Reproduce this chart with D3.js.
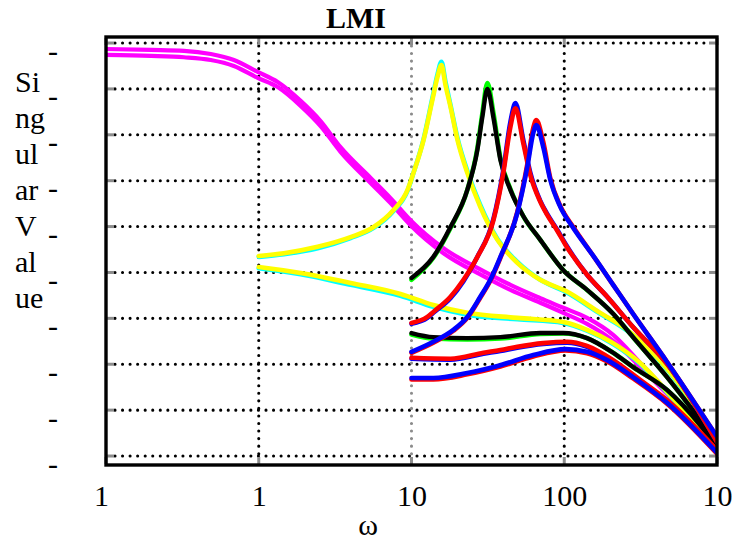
<!DOCTYPE html>
<html><head><meta charset="utf-8">
<script src="https://cdn.jsdelivr.net/npm/d3@7/dist/d3.min.js"></script>
<style>
body{margin:0;background:#fff;}
svg{display:block;font-family:"Liberation Serif","Times New Roman",serif;}
</style>
</head><body>
<svg id="chart" width="738" height="541"></svg>
<script>
// ---------- labels ----------
const titleText = "LMI";
const xLabelText = "ω";
const yLabelLines = ["Si", "ng", "ul", "ar", "V", "al", "ue"];
const xTickValues = [0.1, 1, 10, 100, 1000];
const xTickLabels = ["1", "1", "10", "100", "10"];
const yTickValues = [20, 10, 0, -10, -20, -30, -40, -50, -60, -70];
const yTickLabels = ["-", "-", "-", "-", "-", "-", "-", "-", "-", "-"];

// ---------- data: [omega, singular value (dB)] ----------
const magentaA = [[0.1,18.7],[0.197,18.5],[0.324,18.3],[0.485,17.6],[0.687,16.3],[0.985,13.7],[1.33,11.5],[1.88,7.4],[2.54,3.0],[3.43,-2.7],[5.40,-9.4],[7.29,-13.8],[9.85,-18.6],[16.2,-24.7],[29.6,-29.7],[44.4,-32.7],[69.7,-35.6],[98.5,-37.7],[141,-39.9],[209,-43.6],[314,-49.7],[471,-55.8],[774,-63.4],[1000,-67.4]];
const magentaB = [[0.1,17.4],[0.197,17.2],[0.324,16.9],[0.485,16.3],[0.687,15.0],[0.985,12.4],[1.33,10.4],[1.88,6.3],[2.54,1.9],[3.43,-3.7],[5.40,-10.5],[7.29,-14.9],[9.85,-19.7],[16.2,-25.8],[29.6,-30.8],[44.4,-33.8],[69.7,-36.6],[98.5,-38.8],[141,-41.2],[209,-44.9],[314,-50.6],[471,-56.5],[774,-63.9],[1000,-67.8]];

const yellowUpper = [[1,-26.4],[1.46,-25.8],[2.43,-24.4],[3.99,-22.3],[5.65,-20.1],[7.62,-16.4],[9.42,-12.0],[10.3,-8.3],[12.0,-1.1],[13.7,7.6],[14.8,12.6],[15.7,15.2],[16.7,10.8],[18.0,6.1],[20.0,-1.1],[23.2,-8.3],[28.2,-15.7],[36.5,-22.9],[49.3,-27.9],[69.7,-31.6],[102,-34.0],[172,-38.8],[258,-42.5],[365,-46.9],[573,-54.5],[1000,-67.1]];
const cyanUpper = [[1,-26.6],[1.46,-26.0],[2.43,-24.7],[3.99,-22.5],[5.65,-20.3],[7.62,-16.6],[9.42,-12.2],[10.3,-8.3],[12.0,-0.9],[13.7,8.0],[14.8,13.2],[15.7,15.9],[16.7,11.5],[18.0,6.5],[20.0,-0.7],[23.2,-7.9],[28.2,-15.3],[36.5,-22.7],[49.3,-27.7],[69.7,-31.6],[102,-34.2],[172,-39.0],[258,-42.7],[365,-47.1],[573,-54.7],[1000,-67.4]];
const yellowLower = [[1,-28.8],[1.88,-30.1],[3.99,-32.3],[8.47,-34.7],[13.9,-37.1],[23.2,-38.8],[49.3,-39.9],[98.5,-40.8],[141,-42.5],[209,-45.4],[314,-49.7],[493,-56.7],[774,-63.9],[1000,-68.0]];
const cyanLower = [[1,-29.1],[1.88,-30.4],[3.99,-32.7],[8.47,-35.1],[13.9,-37.5],[23.2,-39.2],[49.3,-40.2],[98.5,-41.0],[141,-42.7],[209,-45.6],[314,-49.9],[493,-56.9],[774,-64.1],[1000,-68.2]];

const blackUpper = [[10,-31.2],[13.9,-26.6],[18.0,-20.1],[23.2,-12.0],[27.0,-3.3],[29.1,3.9],[31.4,10.0],[34.4,3.7],[38.2,-5.5],[44.4,-12.0],[53.9,-17.7],[69.7,-22.9],[98.5,-29.5],[141,-33.8],[209,-39.0],[282,-44.1],[471,-52.8],[1000,-67.1]];
const greenUpper = [[10,-31.6],[13.9,-26.8],[18.0,-20.3],[23.2,-12.0],[27.0,-2.9],[29.1,4.7],[31.4,11.3],[34.4,4.7],[38.2,-5.1],[44.4,-11.8],[53.9,-17.7],[69.7,-22.9],[98.5,-29.5],[141,-33.8],[209,-39.0],[282,-44.1],[471,-52.8],[1000,-67.1]];
const blackLower = [[10,-43.2],[13.9,-44.1],[23.2,-44.3],[38.2,-44.1],[69.7,-43.2],[98.5,-43.2],[141,-44.3],[209,-47.5],[282,-50.6],[471,-55.6],[774,-63.2],[1000,-68.0]];
const greenLower = [[10,-43.5],[13.9,-44.4],[23.2,-44.6],[38.2,-44.4],[69.7,-43.4],[98.5,-43.3],[141,-44.3],[209,-47.5],[282,-50.6],[471,-55.6],[774,-63.2],[1000,-68.0]];

const redUpper = [[10,-41.0],[12.7,-39.7],[13.9,-38.6],[18.0,-35.3],[21.9,-31.6],[27.0,-26.6],[34.4,-18.6],[39.9,-8.3],[44.4,1.7],[47.9,5.8],[53.9,-1.8],[60.0,-8.8],[69.7,-14.6],[77.5,-17.5],[90.0,-20.9],[102,-24.0],[141,-30.5],[191,-35.3],[282,-41.9],[471,-49.9],[1000,-66.9]];
const blueUpperB = [[10,-41.2],[12.7,-39.9],[13.9,-38.8],[18.0,-35.6],[21.9,-31.9],[27.0,-26.6],[34.4,-18.3],[39.9,-7.7],[44.4,2.8],[47.9,6.9],[53.9,-1.1],[60.0,-8.3],[69.7,-14.4],[77.5,-17.3],[90.0,-20.7],[102,-23.8],[141,-30.5],[191,-35.3],[282,-41.9],[471,-49.9],[1000,-66.9]];
const redLower = [[10,-48.6],[18.0,-48.8],[29.6,-47.5],[38.2,-46.9],[49.3,-46.2],[72.9,-45.4],[104.6,-45.1],[141,-46.0],[209,-49.1],[314,-53.4],[471,-57.8],[1000,-68.7]];
const blueLowerB = [[10,-48.8],[18.0,-49.0],[29.6,-47.7],[38.2,-47.1],[49.3,-46.4],[72.9,-45.6],[104.6,-45.3],[141,-46.2],[209,-49.3],[314,-53.6],[471,-58.0],[1000,-68.9]];

const blueUpper = [[10,-47.3],[13.9,-45.1],[18.8,-42.5],[23.2,-39.7],[28.2,-35.3],[32.8,-31.6],[38.2,-26.6],[49.3,-17.0],[57.3,-7.0],[62.7,0.4],[65.6,2.1],[72.9,-2.7],[81.0,-9.8],[94.2,-15.7],[114.6,-20.3],[155,-26.4],[209,-32.7],[282,-39.0],[471,-49.5],[1000,-65.8]];
const redUpperB = [[10,-47.5],[13.9,-45.3],[18.8,-42.7],[23.2,-39.9],[28.2,-35.5],[32.8,-31.8],[38.2,-26.8],[49.3,-16.8],[57.3,-6.4],[62.7,1.5],[65.6,3.2],[72.9,-1.6],[81.0,-9.4],[94.2,-15.5],[114.6,-20.1],[155,-26.4],[209,-32.7],[282,-39.0],[471,-49.5],[1000,-65.8]];
const blueLower = [[10,-53.0],[13.9,-53.0],[23.2,-51.9],[38.2,-50.2],[62.7,-48.0],[102,-46.7],[141,-47.3],[191,-49.1],[282,-52.8],[471,-58.4],[1000,-69.3]];
const redLowerB = [[10,-53.3],[13.9,-53.3],[23.2,-52.2],[38.2,-50.5],[62.7,-48.3],[102,-47.0],[141,-47.6],[191,-49.4],[282,-53.1],[471,-58.6],[1000,-69.5]];

// ---------- drawing ----------
const box = {left: 106, right: 717, top: 37, bottom: 465};
const svg = d3.select("#chart");

const x = d3.scaleLog().domain([0.1, 1000]).range([box.left, box.right]);
const y = d3.scaleLinear().domain([-71.74, 21.53]).range([box.bottom - 1, box.top - 1]);
const plotW = box.right - box.left;

// grid: horizontal dotted
const gridH = svg.append("g");
yTickValues.forEach(v => {
  gridH.append("line")
    .attr("x1", box.left + 9).attr("x2", box.right - 7)
    .attr("y1", y(v)).attr("y2", y(v))
    .attr("stroke", "#000").attr("stroke-width", 3.1)
    .attr("stroke-linecap", "round").attr("stroke-dasharray", "0 7.55");
});
// grid: vertical dotted
const gridV = svg.append("g");
xTickValues.slice(1, -1).forEach(v => {
  gridV.append("line")
    .attr("x1", x(v)).attr("x2", x(v))
    .attr("y1", box.top + 9).attr("y2", box.bottom - 7)
    .attr("stroke", v === 10 ? "#8c8c8c" : "#000").attr("stroke-width", 3.1)
    .attr("stroke-linecap", "round").attr("stroke-dasharray", "0 7.55");
});

// gray tick marks inside box
const ticksG = svg.append("g").attr("stroke", "#8c8c8c").attr("stroke-width", 3);
yTickValues.forEach(v => {
  ticksG.append("line").attr("x1", box.left + 1).attr("x2", box.left + 8).attr("y1", y(v)).attr("y2", y(v));
  ticksG.append("line").attr("x1", box.right - 1).attr("x2", box.right - 8).attr("y1", y(v)).attr("y2", y(v));
});
xTickValues.forEach(v => {
  ticksG.append("line").attr("x1", x(v)).attr("x2", x(v)).attr("y1", box.bottom - 1).attr("y2", box.bottom - 8);
  ticksG.append("line").attr("x1", x(v)).attr("x2", x(v)).attr("y1", box.top + 1).attr("y2", box.top + 8);
});

// clip
svg.append("clipPath").attr("id", "clip").append("rect")
  .attr("x", box.left).attr("y", box.top).attr("width", plotW).attr("height", box.bottom - box.top);

const line = d3.line().x(d => x(d[0])).y(d => y(d[1])).curve(d3.curveMonotoneX);

const series = [
  {data: magentaA, color: "#ff00ff", w: 4.2},
  {data: magentaB, color: "#ff00ff", w: 4.2},
  {data: cyanUpper, color: "#00ffff", w: 4.6},
  {data: cyanLower, color: "#00ffff", w: 4.6},
  {data: yellowUpper, color: "#ffff00", w: 4.6},
  {data: yellowLower, color: "#ffff00", w: 4.6},
  {data: greenUpper, color: "#00ff00", w: 4.6},
  {data: greenLower, color: "#00ff00", w: 4.6},
  {data: blackUpper, color: "#000000", w: 4.4},
  {data: blackLower, color: "#000000", w: 4.4},
  {data: blueUpperB, color: "#0000ff", w: 4.6},
  {data: blueLowerB, color: "#0000ff", w: 4.6},
  {data: redUpper, color: "#ff0000", w: 4.6},
  {data: redLower, color: "#ff0000", w: 4.6},
  {data: redUpperB, color: "#ff0000", w: 4.6},
  {data: redLowerB, color: "#ff0000", w: 4.6},
  {data: blueUpper, color: "#0000ff", w: 4.6},
  {data: blueLower, color: "#0000ff", w: 4.6}
];
const curves = svg.append("g").attr("clip-path", "url(#clip)");
series.forEach(s => {
  curves.append("path").attr("d", line(s.data))
    .attr("fill", "none").attr("stroke", s.color).attr("stroke-width", s.w)
    .attr("stroke-linejoin", "round").attr("stroke-linecap", "round");
});

// box border
svg.append("rect").attr("x", box.left).attr("y", box.top)
  .attr("width", plotW).attr("height", box.bottom - box.top)
  .attr("fill", "none").attr("stroke", "#000").attr("stroke-width", 3.4);

// x axis labels
const xAxis = d3.axisBottom(x).tickValues(xTickValues)
  .tickFormat((d, i) => xTickLabels[i]).tickSize(0);
const gx = svg.append("g").attr("transform", `translate(0,${box.bottom})`).call(xAxis);
gx.select(".domain").remove();
gx.selectAll("text").attr("dy", null).attr("y", 41)
  .attr("dx", (d, i) => i === 0 ? -5 : 0)
  .attr("fill", "#000").style("font-size", "30px")
  .style("font-family", '"Liberation Serif","Times New Roman",serif');

// y axis labels
const yAxis = d3.axisLeft(y).tickValues(yTickValues)
  .tickFormat((d, i) => yTickLabels[i]).tickSize(0).tickPadding(0);
const gy = svg.append("g").attr("transform", "translate(58,0)").call(yAxis);
gy.select(".domain").remove();
gy.selectAll("text").attr("dy", null).attr("y", 17).attr("x", 0)
  .attr("fill", "#000").style("font-size", "30px")
  .style("font-family", '"Liberation Serif","Times New Roman",serif');

// title
svg.append("text").attr("x", 356).attr("y", 28).attr("text-anchor", "middle")
  .style("font-size", "30px").style("font-weight", "bold").text(titleText);

// x label
svg.append("text").attr("x", 368).attr("y", 535).attr("text-anchor", "middle")
  .style("font-size", "30px").text(xLabelText);

// y label, one chunk per line
const yl = svg.append("g");
yLabelLines.forEach((t, i) => {
  yl.append("text").attr("x", 15).attr("y", 92 + 36 * i)
    .style("font-size", "30px").text(t);
});
</script>
</body></html>
